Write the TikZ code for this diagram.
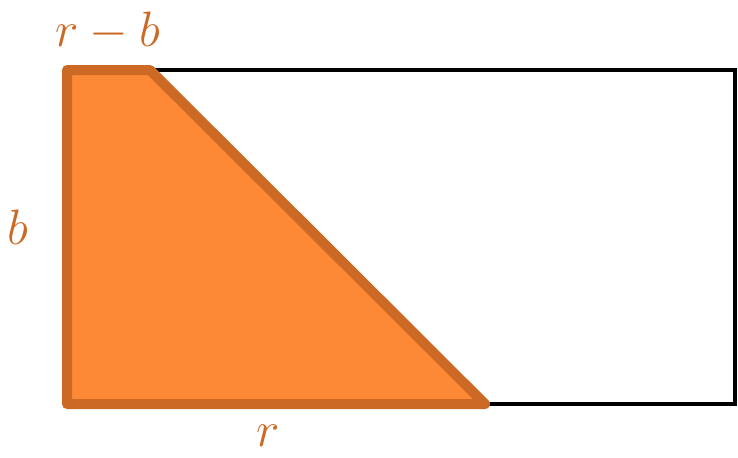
\documentclass[tikz,border=0pt]{standalone}
\begin{document}
\begin{tikzpicture}[x=0.5pt, y=-0.5pt]
            % Define colors
            \definecolor{areafill}{RGB}{253, 137, 55}
            \definecolor{areaedge}{RGB}{204, 106, 37}

            \useasboundingbox (0, 0) rectangle (738, 457);

            % Corners
            \coordinate (tl) at (67, 70);
            \coordinate (tr) at (735, 70);
            \coordinate (br) at (735, 404);
            \coordinate (bl) at (67, 404);
            \coordinate (cut) at (150, 70);
            \coordinate (foot) at (485, 404);

            % Draw large rectangle
            \draw[line width=2pt] (tl) -- (tr) -- (br) -- (bl) -- cycle;

            % Draw shaded trapezoid
            \draw[fill=areafill, draw=areaedge, line width=5pt, line join=round] (tl) -- (cut) -- (foot) -- (bl) -- cycle;

            % Add labels
            \node[text=areaedge, inner sep=1pt] (top) at (108, 31) {\fontsize{24}{28}\selectfont $r-b$};
            \node[text=areaedge, inner sep=1pt] (side) at (18, 227) {\fontsize{24}{28}\selectfont $b$};
            \node[text=areaedge, inner sep=1pt] (base) at (268, 436) {\fontsize{24}{28}\selectfont $r$};
        \end{tikzpicture}
\end{document}
